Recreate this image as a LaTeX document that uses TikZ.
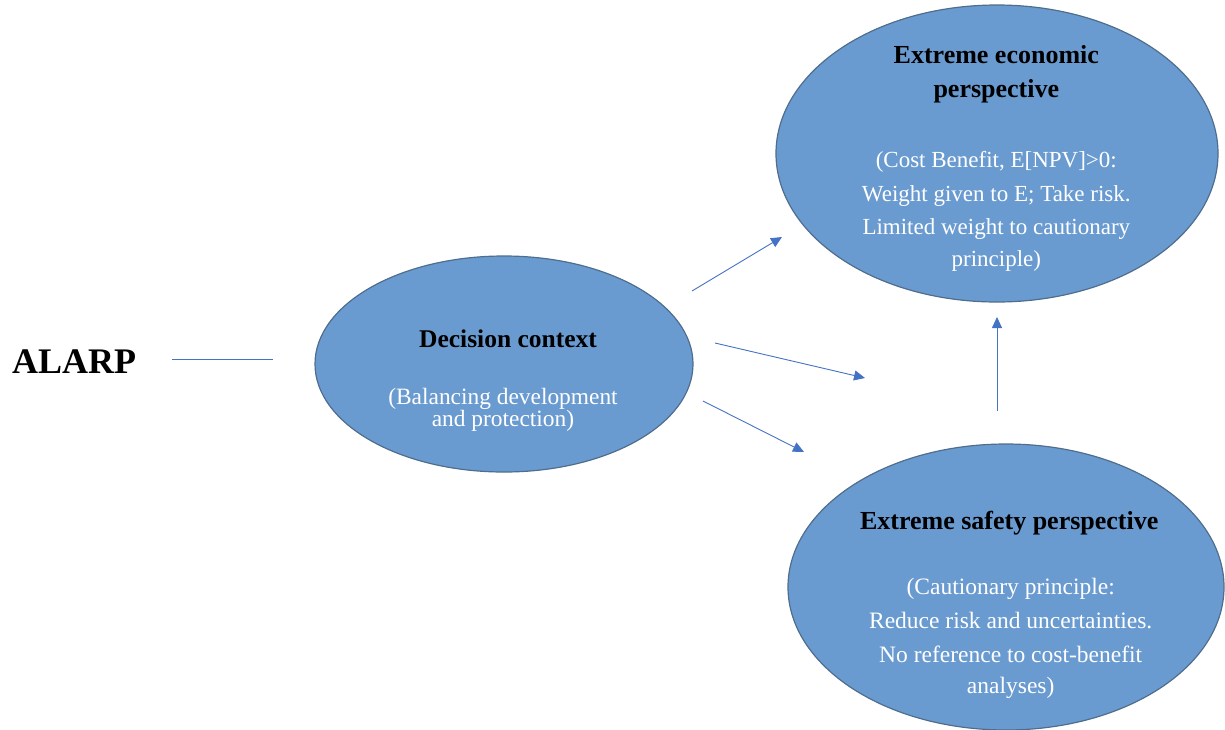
\documentclass[tikz,border=0pt]{standalone}
\usepackage{fontspec}
\setmainfont{Liberation Serif}
\usetikzlibrary{shapes.geometric,arrows.meta}

\definecolor{shapefill}{HTML}{6A9BD0}
\definecolor{shapeedge}{HTML}{4F6D8C}
\definecolor{arrowblue}{HTML}{4472C4}

\begin{document}
\begin{tikzpicture}[x=1pt,y=-1pt,
  bubble/.style={ellipse, draw=shapeedge, line width=1.2pt, fill=shapefill, inner sep=0pt},
  title/.style={font=\bfseries\fontsize{26}{34}\selectfont, text=black, anchor=base, inner sep=0pt, align=center},
  body/.style={font=\fontsize{23}{34}\selectfont, text=white, anchor=base, inner sep=0pt, align=center},
  link/.style={draw=arrowblue, line width=0.9pt, -{Triangle[length=11pt,width=10pt]}},
  plain/.style={draw=arrowblue, line width=0.9pt}]
\useasboundingbox (0,0) rectangle (1225,729);

% left label and its lead line
\node[anchor=base west, inner sep=0pt, font=\bfseries\fontsize{36}{40}\selectfont] (alarp) at (12,373) {ALARP};
\coordinate (lead1) at (172,359);
\coordinate (lead2) at (273,359);
\draw[plain] (lead1) -- (lead2);

% the three ellipses
\node[bubble, minimum width=378pt, minimum height=216pt] (dc) at (504,364) {};
\node[bubble, minimum width=442pt, minimum height=297pt] (eco) at (997,153.5) {};
\node[bubble, minimum width=436pt, minimum height=286pt] (safe) at (1006,587) {};

% decision context text (multi-line nodes sit on the baseline of their last line)
\node[title, font=\bfseries\fontsize{25.5}{34}\selectfont] (dct) at (508,347.3) {Decision context};
\node[body, font=\fontsize{23.4}{20}\selectfont] (dcb) at (503,426.7) {(Balancing development\\and protection)};

% economic perspective text
\node[title] (ecot) at (996.3,97.3) {Extreme economic\\perspective};
\node[body] (ecob) at (996.3,266.7) {(Cost Benefit, E[NPV]>0:\\[0.5pt]Weight given to E; Take risk.\\[-1pt]Limited weight to cautionary\\[-2pt]principle)};

% safety perspective text
\node[title] (safet) at (1009.2,529.3) {Extreme safety perspective};
\node[body, font=\fontsize{23.5}{34}\selectfont] (safeb) at (1010.7,693.3) {(Cautionary principle:\\Reduce risk and uncertainties.\\No reference to cost-benefit\\[-3.5pt]analyses)};

% arrows
\coordinate (a1s) at (692,291);  \coordinate (a1e) at (782,237);
\coordinate (a2s) at (715,343);  \coordinate (a2e) at (865,378);
\coordinate (a3s) at (703,401);  \coordinate (a3e) at (804,452);
\coordinate (a4s) at (997,411);  \coordinate (a4e) at (997,317);
\draw[link] (a1s) -- (a1e);
\draw[link] (a2s) -- (a2e);
\draw[link] (a3s) -- (a3e);
\draw[link] (a4s) -- (a4e);
\end{tikzpicture}
\end{document}
